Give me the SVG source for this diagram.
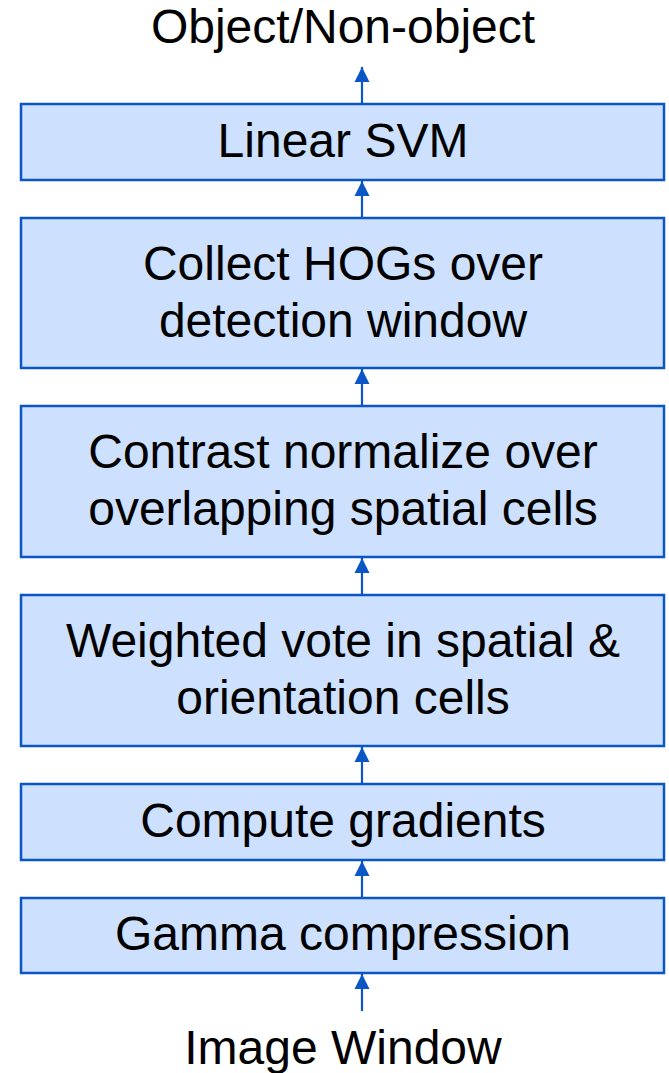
<svg xmlns="http://www.w3.org/2000/svg" width="669" height="1073" viewBox="0 0 669 1073">
<style>
.box{fill:#cde0fd;stroke:#0a56c6;stroke-width:2.5}
.t{font-family:"Liberation Sans",Arial,sans-serif;font-size:48px;fill:#000;text-anchor:middle}
.c{stroke:#0a56c6;stroke-width:2.2;fill:none}
</style>
<defs>
<marker id="ah" markerUnits="userSpaceOnUse" markerWidth="16" markerHeight="16" viewBox="0 0 16 16" refX="15" refY="8" orient="auto">
<path d="M0,0.5 L15,8 L0,15.5 Z" fill="#0a56c6"/>
</marker>
</defs>
<rect width="669" height="1073" fill="#fff"/>
<g id="connectors">
<line class="c" x1="362" y1="104" x2="362" y2="67" marker-end="url(#ah)"/>
<line class="c" x1="362" y1="218" x2="362" y2="181" marker-end="url(#ah)"/>
<line class="c" x1="362" y1="406" x2="362" y2="369" marker-end="url(#ah)"/>
<line class="c" x1="362" y1="595" x2="362" y2="558" marker-end="url(#ah)"/>
<line class="c" x1="362" y1="784" x2="362" y2="747" marker-end="url(#ah)"/>
<line class="c" x1="362" y1="898" x2="362" y2="861" marker-end="url(#ah)"/>
<line class="c" x1="362" y1="1011" x2="362" y2="974" marker-end="url(#ah)"/>
</g>
<g id="output"><text class="t" x="343" y="43">Object/Non-object</text></g>
<g id="svm"><rect class="box" x="21" y="104" width="643" height="76"/><text class="t" x="343" y="157">Linear SVM</text></g>
<g id="collect"><rect class="box" x="21" y="218" width="643" height="150"/><text class="t" x="343" y="280">Collect HOGs over</text><text class="t" x="343" y="337">detection window</text></g>
<g id="contrast"><rect class="box" x="21" y="406" width="643" height="151"/><text class="t" x="343" y="468">Contrast normalize over</text><text class="t" x="343" y="525">overlapping spatial cells</text></g>
<g id="vote"><rect class="box" x="21" y="595" width="643" height="151"/><text class="t" x="343" y="657">Weighted vote in spatial &amp;</text><text class="t" x="343" y="714">orientation cells</text></g>
<g id="gradients"><rect class="box" x="21" y="784" width="643" height="76"/><text class="t" x="343" y="837">Compute gradients</text></g>
<g id="gamma"><rect class="box" x="21" y="898" width="643" height="75"/><text class="t" x="343" y="950">Gamma compression</text></g>
<g id="input"><text class="t" x="343" y="1064">Image Window</text></g>
</svg>
